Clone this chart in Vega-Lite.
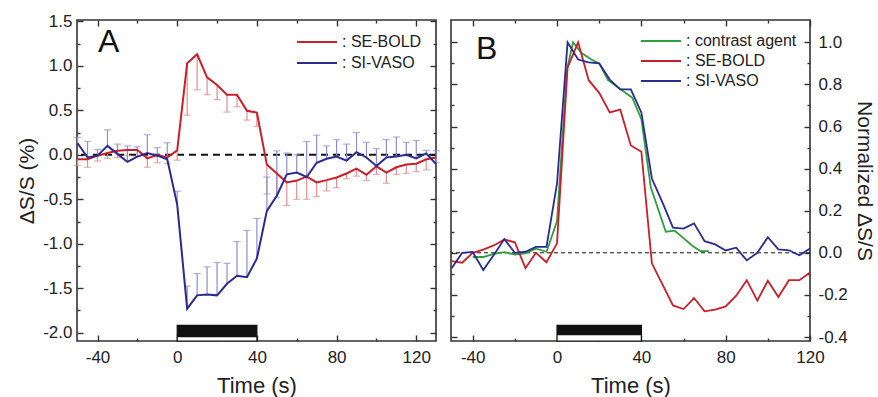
{
  "$schema": "https://vega.github.io/schema/vega-lite/v6.json",
  "padding": {"left": 15, "top": 11, "right": 0, "bottom": 0},
  "spacing": 6,
  "config": {
    "view": {"stroke": "#333", "strokeWidth": 1.6},
    "font": "Liberation Sans",
    "axis": {"domain": false, "grid": false, "tickColor": "#333", "tickWidth": 1.4, "labelFont": "Liberation Sans", "labelFontSize": 17, "labelColor": "#222", "titleFont": "Liberation Sans", "titleFontWeight": "normal", "titleColor": "#222", "labelOverlap": false, "labelFlush": false},
    "legend": {"labelFont": "Liberation Sans", "labelFontSize": 16, "labelColor": "#222"}
  },
  "datasets": {
    "stim": [{"start": 0, "end": 40}],
    "a": [
      {"series": "SE-BOLD", "t": -50, "v": -0.05, "e": -0.12},
      {"series": "SE-BOLD", "t": -45, "v": -0.05, "e": -0.14},
      {"series": "SE-BOLD", "t": -40, "v": -0.01, "e": -0.07},
      {"series": "SE-BOLD", "t": -35, "v": 0.02, "e": -0.04},
      {"series": "SE-BOLD", "t": -30, "v": 0.045, "e": -0.03},
      {"series": "SE-BOLD", "t": -25, "v": 0.055, "e": -0.01},
      {"series": "SE-BOLD", "t": -20, "v": 0.055, "e": -0.02},
      {"series": "SE-BOLD", "t": -15, "v": -0.04, "e": -0.14},
      {"series": "SE-BOLD", "t": -10, "v": 0.0, "e": -0.09},
      {"series": "SE-BOLD", "t": -5, "v": -0.03, "e": -0.1},
      {"series": "SE-BOLD", "t": 0, "v": 0.05, "e": -0.06},
      {"series": "SE-BOLD", "t": 5, "v": 1.03, "e": 0.445},
      {"series": "SE-BOLD", "t": 10, "v": 1.13, "e": 0.73},
      {"series": "SE-BOLD", "t": 15, "v": 0.87, "e": 0.675},
      {"series": "SE-BOLD", "t": 20, "v": 0.785, "e": 0.62},
      {"series": "SE-BOLD", "t": 25, "v": 0.675, "e": 0.48},
      {"series": "SE-BOLD", "t": 30, "v": 0.675, "e": 0.54},
      {"series": "SE-BOLD", "t": 35, "v": 0.495, "e": 0.39},
      {"series": "SE-BOLD", "t": 40, "v": 0.475, "e": 0.32},
      {"series": "SE-BOLD", "t": 45, "v": -0.11, "e": -0.44},
      {"series": "SE-BOLD", "t": 50, "v": -0.21, "e": -0.48},
      {"series": "SE-BOLD", "t": 55, "v": -0.31, "e": -0.57},
      {"series": "SE-BOLD", "t": 60, "v": -0.29, "e": -0.5},
      {"series": "SE-BOLD", "t": 65, "v": -0.245, "e": -0.5},
      {"series": "SE-BOLD", "t": 70, "v": -0.31, "e": -0.47},
      {"series": "SE-BOLD", "t": 75, "v": -0.285, "e": -0.405},
      {"series": "SE-BOLD", "t": 80, "v": -0.255, "e": -0.37},
      {"series": "SE-BOLD", "t": 85, "v": -0.21, "e": -0.27},
      {"series": "SE-BOLD", "t": 90, "v": -0.155, "e": -0.24},
      {"series": "SE-BOLD", "t": 95, "v": -0.225, "e": -0.29},
      {"series": "SE-BOLD", "t": 100, "v": -0.13, "e": -0.22},
      {"series": "SE-BOLD", "t": 105, "v": -0.2, "e": -0.32},
      {"series": "SE-BOLD", "t": 110, "v": -0.14, "e": -0.22},
      {"series": "SE-BOLD", "t": 115, "v": -0.11, "e": -0.21},
      {"series": "SE-BOLD", "t": 120, "v": -0.1, "e": -0.19},
      {"series": "SE-BOLD", "t": 125, "v": -0.05, "e": -0.17},
      {"series": "SE-BOLD", "t": 130, "v": -0.03, "e": -0.09},
      {"series": "SI-VASO", "t": -50, "v": 0.13, "e": 0.195},
      {"series": "SI-VASO", "t": -45, "v": -0.03, "e": 0.15},
      {"series": "SI-VASO", "t": -40, "v": -0.01, "e": 0.06},
      {"series": "SI-VASO", "t": -35, "v": 0.1, "e": 0.28},
      {"series": "SI-VASO", "t": -30, "v": 0.01, "e": 0.12},
      {"series": "SI-VASO", "t": -25, "v": -0.08, "e": 0.1},
      {"series": "SI-VASO", "t": -20, "v": -0.02, "e": 0.09},
      {"series": "SI-VASO", "t": -15, "v": 0.02, "e": 0.225},
      {"series": "SI-VASO", "t": -10, "v": -0.01, "e": 0.08},
      {"series": "SI-VASO", "t": -5, "v": -0.05, "e": 0.135},
      {"series": "SI-VASO", "t": 0, "v": -0.56, "e": -0.41},
      {"series": "SI-VASO", "t": 5, "v": -1.73, "e": -1.475},
      {"series": "SI-VASO", "t": 10, "v": -1.58, "e": -1.335},
      {"series": "SI-VASO", "t": 15, "v": -1.57, "e": -1.26},
      {"series": "SI-VASO", "t": 20, "v": -1.58, "e": -1.21},
      {"series": "SI-VASO", "t": 25, "v": -1.45, "e": -1.22},
      {"series": "SI-VASO", "t": 30, "v": -1.36, "e": -0.975},
      {"series": "SI-VASO", "t": 35, "v": -1.375, "e": -0.85},
      {"series": "SI-VASO", "t": 40, "v": -1.165, "e": -0.715},
      {"series": "SI-VASO", "t": 45, "v": -0.63, "e": -0.25},
      {"series": "SI-VASO", "t": 50, "v": -0.46, "e": 0.045},
      {"series": "SI-VASO", "t": 55, "v": -0.22, "e": 0.02},
      {"series": "SI-VASO", "t": 60, "v": -0.2, "e": 0.0},
      {"series": "SI-VASO", "t": 65, "v": -0.25, "e": 0.15},
      {"series": "SI-VASO", "t": 70, "v": -0.09, "e": 0.22},
      {"series": "SI-VASO", "t": 75, "v": -0.045, "e": 0.1},
      {"series": "SI-VASO", "t": 80, "v": -0.02, "e": 0.17},
      {"series": "SI-VASO", "t": 85, "v": -0.065, "e": 0.12},
      {"series": "SI-VASO", "t": 90, "v": 0.03, "e": 0.25},
      {"series": "SI-VASO", "t": 95, "v": -0.03, "e": 0.14},
      {"series": "SI-VASO", "t": 100, "v": -0.125, "e": 0.07},
      {"series": "SI-VASO", "t": 105, "v": -0.03, "e": 0.17},
      {"series": "SI-VASO", "t": 110, "v": -0.02, "e": 0.2},
      {"series": "SI-VASO", "t": 115, "v": 0.0, "e": 0.14},
      {"series": "SI-VASO", "t": 120, "v": -0.04, "e": 0.16},
      {"series": "SI-VASO", "t": 125, "v": 0.015, "e": 0.05},
      {"series": "SI-VASO", "t": 130, "v": -0.105, "e": 0.045}
    ],
    "b": [
      {"series": "contrast agent", "t": -40, "v": -0.02},
      {"series": "contrast agent", "t": -35, "v": -0.02},
      {"series": "contrast agent", "t": -30, "v": -0.005},
      {"series": "contrast agent", "t": -25, "v": 0.003},
      {"series": "contrast agent", "t": -20, "v": -0.008},
      {"series": "contrast agent", "t": -15, "v": -0.003},
      {"series": "contrast agent", "t": -10, "v": 0.02},
      {"series": "contrast agent", "t": -5, "v": 0.005},
      {"series": "contrast agent", "t": 0, "v": 0.15},
      {"series": "contrast agent", "t": 4.7, "v": 0.87},
      {"series": "contrast agent", "t": 7.6, "v": 1.0},
      {"series": "contrast agent", "t": 11.5, "v": 0.95},
      {"series": "contrast agent", "t": 16.3, "v": 0.918},
      {"series": "contrast agent", "t": 20, "v": 0.9},
      {"series": "contrast agent", "t": 24.2, "v": 0.82},
      {"series": "contrast agent", "t": 29.7, "v": 0.78},
      {"series": "contrast agent", "t": 35.7, "v": 0.737},
      {"series": "contrast agent", "t": 40, "v": 0.635},
      {"series": "contrast agent", "t": 44.5, "v": 0.31},
      {"series": "contrast agent", "t": 51.6, "v": 0.1},
      {"series": "contrast agent", "t": 55.8, "v": 0.105},
      {"series": "contrast agent", "t": 60, "v": 0.07},
      {"series": "contrast agent", "t": 64, "v": 0.035},
      {"series": "contrast agent", "t": 68, "v": 0.008},
      {"series": "contrast agent", "t": 72, "v": 0.008},
      {"series": "SE-BOLD", "t": -50, "v": -0.04},
      {"series": "SE-BOLD", "t": -45, "v": -0.047},
      {"series": "SE-BOLD", "t": -40, "v": 0.0},
      {"series": "SE-BOLD", "t": -35, "v": 0.015},
      {"series": "SE-BOLD", "t": -30, "v": 0.035},
      {"series": "SE-BOLD", "t": -25, "v": 0.063},
      {"series": "SE-BOLD", "t": -20, "v": 0.05},
      {"series": "SE-BOLD", "t": -15, "v": -0.073},
      {"series": "SE-BOLD", "t": -10, "v": 0.0},
      {"series": "SE-BOLD", "t": -5, "v": -0.045},
      {"series": "SE-BOLD", "t": 0, "v": 0.045},
      {"series": "SE-BOLD", "t": 5, "v": 0.88},
      {"series": "SE-BOLD", "t": 10, "v": 1.0},
      {"series": "SE-BOLD", "t": 15, "v": 0.82},
      {"series": "SE-BOLD", "t": 20, "v": 0.76},
      {"series": "SE-BOLD", "t": 25, "v": 0.667},
      {"series": "SE-BOLD", "t": 30, "v": 0.68},
      {"series": "SE-BOLD", "t": 35, "v": 0.51},
      {"series": "SE-BOLD", "t": 40, "v": 0.48},
      {"series": "SE-BOLD", "t": 45, "v": -0.05},
      {"series": "SE-BOLD", "t": 50, "v": -0.15},
      {"series": "SE-BOLD", "t": 55, "v": -0.25},
      {"series": "SE-BOLD", "t": 60, "v": -0.267},
      {"series": "SE-BOLD", "t": 65, "v": -0.215},
      {"series": "SE-BOLD", "t": 70, "v": -0.278},
      {"series": "SE-BOLD", "t": 75, "v": -0.27},
      {"series": "SE-BOLD", "t": 80, "v": -0.255},
      {"series": "SE-BOLD", "t": 85, "v": -0.204},
      {"series": "SE-BOLD", "t": 90, "v": -0.13},
      {"series": "SE-BOLD", "t": 95, "v": -0.227},
      {"series": "SE-BOLD", "t": 100, "v": -0.133},
      {"series": "SE-BOLD", "t": 105, "v": -0.21},
      {"series": "SE-BOLD", "t": 110, "v": -0.13},
      {"series": "SE-BOLD", "t": 115, "v": -0.13},
      {"series": "SE-BOLD", "t": 120, "v": -0.094},
      {"series": "SI-VASO", "t": -50, "v": -0.073},
      {"series": "SI-VASO", "t": -45, "v": 0.0},
      {"series": "SI-VASO", "t": -40, "v": 0.004},
      {"series": "SI-VASO", "t": -35, "v": -0.082},
      {"series": "SI-VASO", "t": -30, "v": -0.01},
      {"series": "SI-VASO", "t": -25, "v": 0.065},
      {"series": "SI-VASO", "t": -20, "v": 0.0},
      {"series": "SI-VASO", "t": -15, "v": 0.005},
      {"series": "SI-VASO", "t": -10, "v": 0.028},
      {"series": "SI-VASO", "t": -5, "v": 0.028},
      {"series": "SI-VASO", "t": 0, "v": 0.33},
      {"series": "SI-VASO", "t": 5, "v": 1.0},
      {"series": "SI-VASO", "t": 10, "v": 0.918},
      {"series": "SI-VASO", "t": 15, "v": 0.905},
      {"series": "SI-VASO", "t": 20, "v": 0.9},
      {"series": "SI-VASO", "t": 25, "v": 0.823},
      {"series": "SI-VASO", "t": 30, "v": 0.776},
      {"series": "SI-VASO", "t": 35, "v": 0.776},
      {"series": "SI-VASO", "t": 40, "v": 0.667},
      {"series": "SI-VASO", "t": 45, "v": 0.353},
      {"series": "SI-VASO", "t": 50, "v": 0.24},
      {"series": "SI-VASO", "t": 55, "v": 0.12},
      {"series": "SI-VASO", "t": 60, "v": 0.115},
      {"series": "SI-VASO", "t": 65, "v": 0.14},
      {"series": "SI-VASO", "t": 70, "v": 0.055},
      {"series": "SI-VASO", "t": 75, "v": 0.04},
      {"series": "SI-VASO", "t": 80, "v": 0.011},
      {"series": "SI-VASO", "t": 85, "v": 0.024},
      {"series": "SI-VASO", "t": 90, "v": -0.036},
      {"series": "SI-VASO", "t": 95, "v": 0.0},
      {"series": "SI-VASO", "t": 100, "v": 0.074},
      {"series": "SI-VASO", "t": 105, "v": 0.016},
      {"series": "SI-VASO", "t": 110, "v": 0.012},
      {"series": "SI-VASO", "t": 115, "v": -0.012},
      {"series": "SI-VASO", "t": 120, "v": 0.02}
    ]
  },
  "hconcat": [
    {
      "width": 359,
      "height": 321,
      "title": {"text": "A", "anchor": "start", "orient": "top", "frame": "group", "fontSize": 32, "fontWeight": "normal", "font": "Liberation Sans", "color": "#111", "offset": 0, "dx": 21, "dy": 47},
      "resolve": {"axis": {"x": "independent", "y": "independent"}},
      "layer": [
        {
          "data": {"name": "stim"},
          "mark": {"type": "rect", "fill": "white", "stroke": "#111", "strokeWidth": 1.2},
          "encoding": {
            "x": {"field": "start", "type": "quantitative", "scale": {"domain": [-50.3, 129.9], "nice": false, "zero": false}, "axis": null},
            "x2": {"field": "end"},
            "y": {"datum": -1.918, "type": "quantitative", "scale": {"domain": [-2.093, 1.515], "nice": false, "zero": false}, "axis": null},
            "y2": {"datum": -2.093}
          }
        },
        {
          "data": {"name": "stim"},
          "mark": {"type": "rect", "fill": "#111"},
          "encoding": {
            "x": {"field": "start", "type": "quantitative", "axis": null},
            "x2": {"field": "end"},
            "y": {"datum": -1.918, "type": "quantitative", "axis": null},
            "y2": {"datum": -2.05}
          }
        },
        {
          "data": {"name": "stim"},
          "mark": {"type": "rule", "color": "#111", "strokeWidth": 2, "strokeDash": [7, 5]},
          "encoding": {"y": {"datum": 0, "type": "quantitative", "axis": null}}
        },
        {
          "data": {"name": "a"},
          "transform": [{"filter": "datum.series === 'SE-BOLD'"}],
          "mark": {"type": "rule", "strokeWidth": 1.2, "color": "#dd8f8f"},
          "encoding": {
            "x": {"field": "t", "type": "quantitative", "axis": {"orient": "top", "values": [-40, 0, 40, 80, 120], "labels": false, "title": null, "tickSize": 6, "offset": -6}},
            "y": {"field": "v", "type": "quantitative", "axis": {"orient": "right", "values": [-2, -1.5, -1, -0.5, 0, 0.5, 1, 1.5], "labels": false, "title": null, "tickSize": 6, "offset": -6}},
            "y2": {"field": "e"}
          }
        },
        {
          "data": {"name": "a"},
          "transform": [{"filter": "datum.series === 'SE-BOLD'"}],
          "mark": {"type": "tick", "orient": "horizontal", "size": 7, "thickness": 1.2, "color": "#dd8f8f"},
          "encoding": {
            "x": {"field": "t", "type": "quantitative", "axis": {"orient": "top", "values": [-20, 20, 60, 100], "labels": false, "title": null, "tickSize": 3, "offset": -3}},
            "y": {"field": "e", "type": "quantitative", "axis": {"orient": "right", "values": [-1.75, -1.25, -0.75, -0.25, 0.25, 0.75, 1.25], "labels": false, "title": null, "tickSize": 3, "offset": -3}}
          }
        },
        {
          "data": {"name": "a"},
          "transform": [{"filter": "datum.series === 'SI-VASO'"}],
          "mark": {"type": "rule", "strokeWidth": 1.2, "color": "#8e8ecb"},
          "encoding": {
            "x": {"field": "t", "type": "quantitative", "axis": {"orient": "bottom", "values": [-20, 20, 60, 100], "labels": false, "title": null, "tickSize": 3, "offset": -3}},
            "y": {"field": "v", "type": "quantitative", "axis": {"orient": "left", "values": [-1.75, -1.25, -0.75, -0.25, 0.25, 0.75, 1.25], "labels": false, "title": null, "tickSize": 3, "offset": -3}},
            "y2": {"field": "e"}
          }
        },
        {
          "data": {"name": "a"},
          "transform": [{"filter": "datum.series === 'SI-VASO'"}],
          "mark": {"type": "tick", "orient": "horizontal", "size": 7, "thickness": 1.2, "color": "#8e8ecb"},
          "encoding": {
            "x": {"field": "t", "type": "quantitative", "axis": null},
            "y": {"field": "e", "type": "quantitative", "axis": null}
          }
        },
        {
          "data": {"name": "a"},
          "mark": {"type": "line", "strokeWidth": 2},
          "encoding": {
            "x": {"field": "t", "type": "quantitative", "axis": {"orient": "bottom", "values": [-40, 0, 40, 80, 120], "labelExpr": "'' + datum.value", "tickSize": 6, "offset": -6, "labelPadding": 8, "title": "Time (s)", "titleFontSize": 22, "titlePadding": 10}},
            "y": {"field": "v", "type": "quantitative", "axis": {"orient": "left", "values": [-2, -1.5, -1, -0.5, 0, 0.5, 1, 1.5], "labelExpr": "(datum.value < 0 ? '-' : '') + format(abs(datum.value), '.1f')", "tickSize": 6, "offset": -6, "labelPadding": 5, "title": "ΔS/S (%)", "titleFontSize": 21, "titlePadding": 5}},
            "color": {"field": "series", "type": "nominal", "scale": {"domain": ["SE-BOLD", "SI-VASO"], "range": ["#c8202a", "#2b2b8f"]}, "legend": {"orient": "top-right", "title": null, "symbolType": "M-5,0H5", "symbolSize": 64, "symbolStrokeWidth": 2, "labelExpr": "': ' + datum.label", "labelOffset": 17, "offset": 14, "padding": 0, "rowPadding": 5}}
          }
        }
      ]
    },
    {
      "width": 359,
      "height": 321,
      "title": {"text": "B", "anchor": "start", "orient": "top", "frame": "group", "fontSize": 32, "fontWeight": "normal", "font": "Liberation Sans", "color": "#111", "offset": 0, "dx": 25, "dy": 47},
      "resolve": {"axis": {"x": "independent", "y": "independent"}},
      "layer": [
        {
          "data": {"name": "stim"},
          "mark": {"type": "rect", "fill": "white", "stroke": "#111", "strokeWidth": 1.2},
          "encoding": {
            "x": {"field": "start", "type": "quantitative", "scale": {"domain": [-50.3, 120], "nice": false, "zero": false}, "axis": {"orient": "top", "values": [-40, 0, 40, 80, 120], "labels": false, "title": null, "tickSize": 6, "offset": -6}},
            "x2": {"field": "end"},
            "y": {"datum": -0.345, "type": "quantitative", "scale": {"domain": [-0.419, 1.106], "nice": false, "zero": false}, "axis": {"orient": "left", "values": [-0.4, -0.2, 0, 0.2, 0.4, 0.6, 0.8, 1.0], "labels": false, "title": null, "tickSize": 6, "offset": -6}},
            "y2": {"datum": -0.419}
          }
        },
        {
          "data": {"name": "stim"},
          "mark": {"type": "rect", "fill": "#111"},
          "encoding": {
            "x": {"field": "start", "type": "quantitative", "axis": {"orient": "top", "values": [-20, 20, 60, 100], "labels": false, "title": null, "tickSize": 3, "offset": -3}},
            "x2": {"field": "end"},
            "y": {"datum": -0.345, "type": "quantitative", "axis": {"orient": "left", "values": [-0.3, -0.1, 0.1, 0.3, 0.5, 0.7, 0.9], "labels": false, "title": null, "tickSize": 3, "offset": -3}},
            "y2": {"datum": -0.392}
          }
        },
        {
          "data": {"name": "stim"},
          "mark": {"type": "rule", "color": "#111", "strokeWidth": 1, "strokeDash": [4, 3]},
          "encoding": {"y": {"datum": 0, "type": "quantitative", "axis": null}}
        },
        {
          "data": {"name": "b"},
          "mark": {"type": "line", "opacity": 0},
          "encoding": {
            "x": {"field": "t", "type": "quantitative", "axis": {"orient": "bottom", "values": [-20, 20, 60, 100], "labels": false, "title": null, "tickSize": 3, "offset": -3}},
            "y": {"field": "v", "type": "quantitative", "axis": {"orient": "right", "values": [-0.3, -0.1, 0.1, 0.3, 0.5, 0.7, 0.9], "labels": false, "title": null, "tickSize": 3, "offset": -3}},
            "detail": {"field": "series"}
          }
        },
        {
          "data": {"name": "b"},
          "mark": {"type": "line", "strokeWidth": 1.8},
          "encoding": {
            "x": {"field": "t", "type": "quantitative", "axis": {"orient": "bottom", "values": [-40, 0, 40, 80, 120], "labelExpr": "'' + datum.value", "tickSize": 6, "offset": -6, "labelPadding": 8, "title": "Time (s)", "titleFontSize": 22, "titlePadding": 10}},
            "y": {"field": "v", "type": "quantitative", "axis": {"orient": "right", "values": [-0.4, -0.2, 0, 0.2, 0.4, 0.6, 0.8, 1.0], "labelExpr": "(datum.value < 0 ? '-' : '') + format(abs(datum.value), '.1f')", "tickSize": 6, "offset": -6, "labelPadding": 8, "title": "Normalized ΔS/S", "titleFontSize": 21, "titlePadding": 6}},
            "color": {"field": "series", "type": "nominal", "scale": {"domain": ["contrast agent", "SE-BOLD", "SI-VASO"], "range": ["#2e9e3e", "#c8202a", "#2b2b8f"]}, "legend": {"orient": "top-right", "title": null, "symbolType": "M-5,0H5", "symbolSize": 64, "symbolStrokeWidth": 2, "labelExpr": "': ' + datum.label", "labelOffset": 17, "offset": 13, "padding": 0, "rowPadding": 4}}
          }
        }
      ]
    }
  ],
  "resolve": {"scale": {"color": "independent"}}
}
